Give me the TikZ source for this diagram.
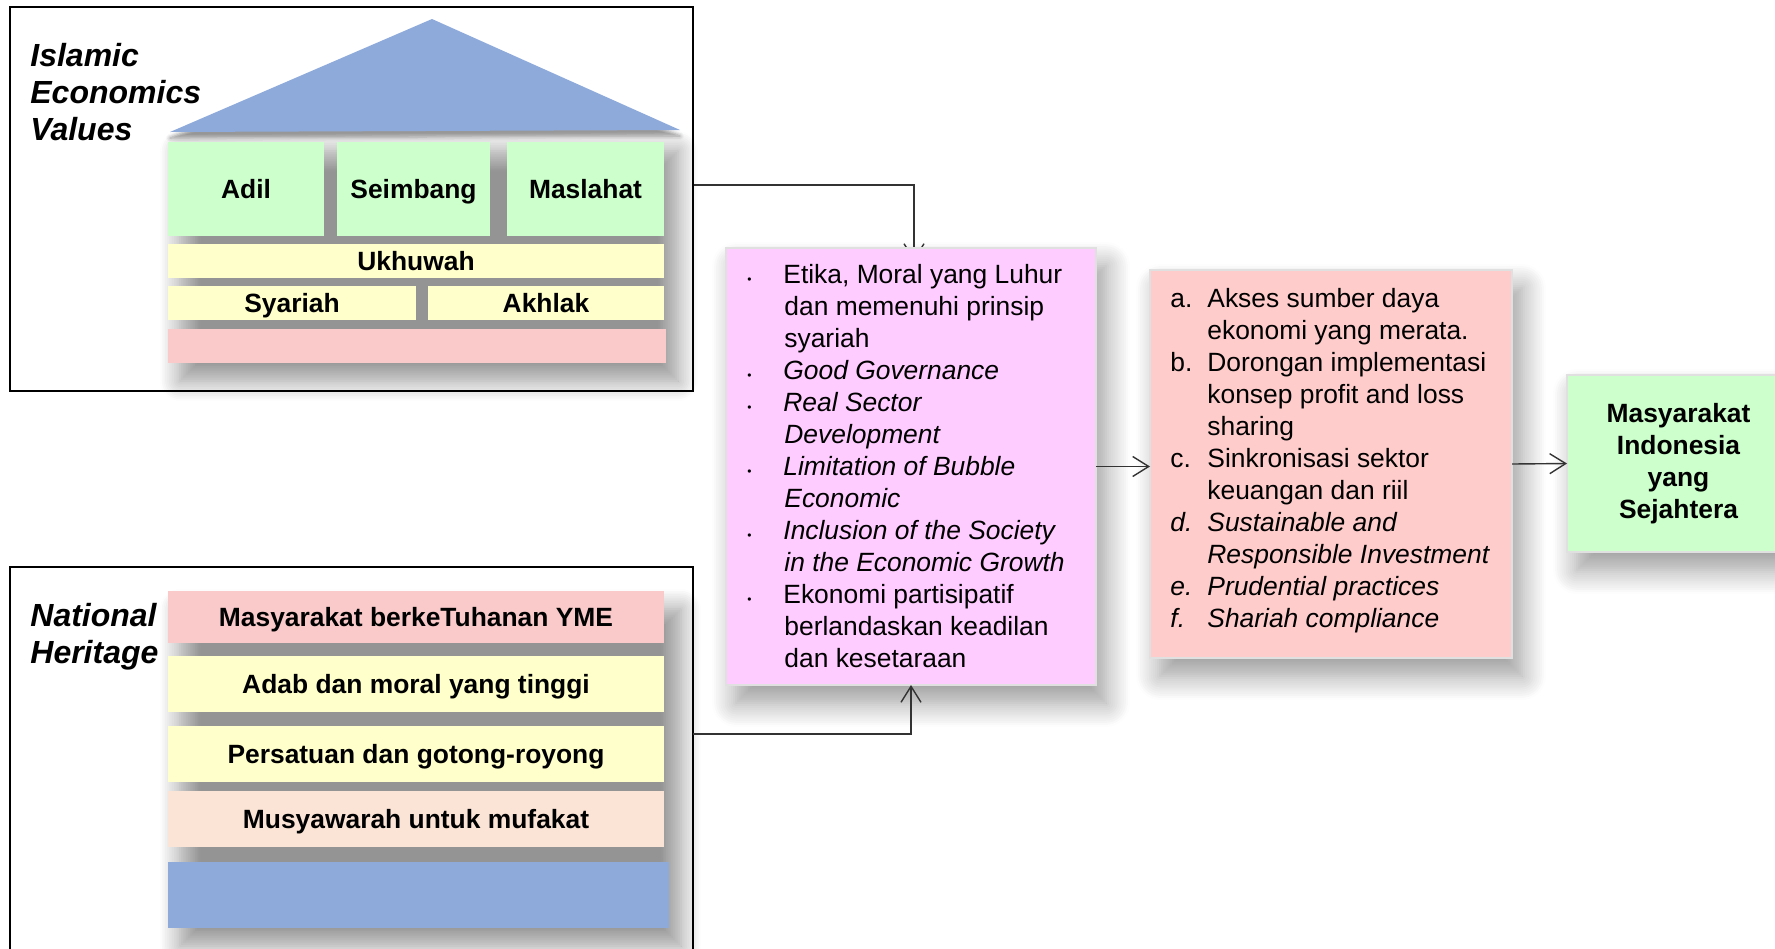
\documentclass[tikz,border=0pt]{standalone}
\usepackage{fontspec}
\setmainfont{Liberation Sans}
\usetikzlibrary{arrows.meta,shadows.blur,backgrounds}

\definecolor{roofblue}{RGB}{142,170,219}
\definecolor{pillargreen}{RGB}{204,255,204}
\definecolor{layeryellow}{RGB}{255,255,204}
\definecolor{layerpink}{RGB}{250,202,202}
\definecolor{layerpeach}{RGB}{251,228,214}
\definecolor{boxviolet}{RGB}{255,204,255}
\definecolor{boxred}{RGB}{255,204,204}

\newcommand{\bul}{\makebox[18pt][l]{\fontsize{6}{6}\selectfont\textbullet}}
\newcommand{\lbl}[1]{\makebox[18.5pt][l]{#1}}

\begin{document}
\begin{tikzpicture}[x=0.5pt,y=-0.5pt,
	>={Straight Barb[length=8pt,width=10pt]},
	frame/.style={draw,line width=1pt,anchor=north west,inner sep=0pt,outer sep=0pt},
	slab/.style={anchor=north west,inner sep=0pt,outer sep=0pt,text height=9.5pt,text depth=0pt,
		font=\bfseries\fontsize{13.2}{16}\selectfont},
	panel/.style={draw=black!12,line width=0.6pt,anchor=north west,inner sep=0pt,outer sep=0pt,
		blur shadow={shadow xshift=5pt,shadow yshift=-9pt,shadow blur radius=12pt,shadow opacity=40,shadow blur steps=12}},
	groupshadow/.style={blur shadow={shadow xshift=6pt,shadow yshift=-9pt,shadow blur radius=10pt,shadow opacity=42,shadow blur steps=12}},
	listtext/.style={anchor=base west,align=left,inner sep=0pt,font=\fontsize{13.2}{16}\selectfont},
	heading/.style={anchor=base west,align=left,inner sep=0pt,font=\bfseries\itshape\fontsize{16}{18.5}\selectfont},
	conn/.style={->,line width=0.7pt,draw=black!80}]

\useasboundingbox (0,0) rectangle (1775,948);

% outer frames
\node[frame,minimum width=341.5pt,minimum height=192pt] (islam) at (10,7) {};
\node[frame,minimum width=341.5pt,minimum height=200pt] (nusa) at (10,567) {};
\node[heading] (islamlabel) at (30,140) {Islamic\\Economics\\Values};
\node[heading] (nusalabel) at (30,663) {National\\Heritage};

% the house
\path[groupshadow] (168,133) rectangle (666,363);
\fill[roofblue,blur shadow={shadow xshift=0pt,shadow yshift=-3pt,shadow blur radius=2pt}]
	(170,132) -- (432,19) -- (680,130) -- cycle;
\node[slab,fill=pillargreen,minimum width=78pt,minimum height=47pt] (adil) at (168,142) {Adil};
\node[slab,fill=pillargreen,minimum width=76.5pt,minimum height=47pt] (seimbang) at (337,142) {Seimbang};
\node[slab,fill=pillargreen,minimum width=78.5pt,minimum height=47pt] (maslahat) at (507,142) {Maslahat};
\node[slab,fill=layeryellow,minimum width=248pt,minimum height=17pt] (ukhuwah) at (168,244) {Ukhuwah};
\node[slab,fill=layeryellow,minimum width=124pt,minimum height=17pt] (syariah) at (168,286) {Syariah};
\node[slab,fill=layeryellow,minimum width=118pt,minimum height=17pt] (akhlak) at (428,286) {Akhlak};
\node[slab,fill=layerpink,minimum width=249pt,minimum height=17pt] (fondasi) at (168,329) {};

% national heritage layers
\path[groupshadow] (168,591) rectangle (669,928);
\node[slab,fill=layerpink,minimum width=248pt,minimum height=26pt] (tuhan) at (168,591) {Masyarakat berkeTuhanan YME};
\node[slab,fill=layeryellow,minimum width=248pt,minimum height=28pt] (adab) at (168,656) {Adab dan moral yang tinggi};
\node[slab,fill=layeryellow,minimum width=248pt,minimum height=28pt] (gotong) at (168,726) {Persatuan dan gotong-royong};
\node[slab,fill=layerpeach,minimum width=248pt,minimum height=28pt] (mufakat) at (168,791) {Musyawarah untuk mufakat};
\node[slab,fill=roofblue,minimum width=250.5pt,minimum height=33pt] (dasar) at (168,862) {};

% principles
\node[panel,fill=boxviolet,minimum width=185pt,minimum height=218.5pt] (etika) at (726,248) {};
\node[listtext] (etikatext) at (747,667) {\bul Etika, Moral yang Luhur\\
	\lbl{}dan memenuhi prinsip\\
	\lbl{}syariah\\
	\bul\textit{Good Governance}\\
	\bul\textit{Real Sector}\\
	\lbl{}\textit{Development}\\
	\bul\textit{Limitation of Bubble}\\
	\lbl{}\textit{Economic}\\
	\bul\textit{Inclusion of the Society}\\
	\lbl{}\textit{in the Economic Growth}\\
	\bul Ekonomi partisipatif\\
	\lbl{}berlandaskan keadilan\\
	\lbl{}dan kesetaraan};

% actions
\node[panel,fill=boxred,minimum width=181pt,minimum height=194pt] (aksi) at (1150,270) {};
\node[listtext] (aksitext) at (1170,627) {\lbl{a.}Akses sumber daya\\
	\lbl{}ekonomi yang merata.\\
	\lbl{b.}Dorongan implementasi\\
	\lbl{}konsep profit and loss\\
	\lbl{}sharing\\
	\lbl{c.}Sinkronisasi sektor\\
	\lbl{}keuangan dan riil\\
	\textit{\lbl{d.}Sustainable and}\\
	\textit{\lbl{}Responsible Investment}\\
	\textit{\lbl{e.}Prudential practices}\\
	\textit{\lbl{f.}Shariah compliance}};

% goal
\node[panel,fill=pillargreen,minimum width=111.5pt,minimum height=88.5pt,align=center,
	font=\bfseries\fontsize{13.2}{16}\selectfont] (sejahtera) at (1567,375)
	{Masyarakat\\Indonesia\\yang\\Sejahtera};

% connectors
\begin{pgfonlayer}{background}
	\draw[conn,shorten >=-6.5pt] ([yshift=7pt]islam.east) -| ([xshift=1.5pt]etika.north);
\end{pgfonlayer}
\draw[conn] ([yshift=16.5pt]nusa.east) -| (etika.south);
\draw[conn] (etika.east) -- (etika.east -| aksi.west);
\draw[conn] (aksi.east) -- (sejahtera.west);
\end{tikzpicture}
\end{document}
